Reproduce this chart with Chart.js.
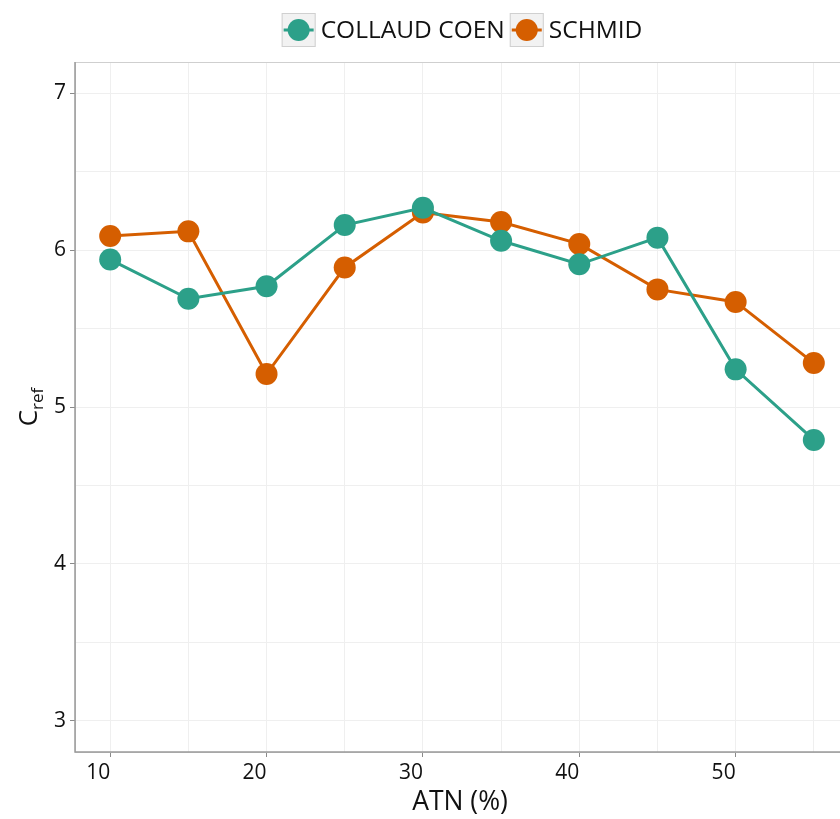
<!DOCTYPE html>
<html>
<head>
<meta charset="utf-8">
<script src="https://cdn.jsdelivr.net/npm/chart.js@4"></script>
<style>
  html, body { margin: 0; padding: 0; background: #fff; overflow: hidden; }
  #wrap { width: 860px; height: 819px; }
</style>
</head>
<body>
<div id="wrap"><canvas id="atnChart" width="860" height="819"></canvas></div>
<script>
// values
const atn = [10, 15, 20, 25, 30, 35, 40, 45, 50, 55];
const collaudCoen = [5.94, 5.69, 5.77, 6.16, 6.27, 6.06, 5.91, 6.08, 5.24, 4.79];
const schmid = [6.09, 6.12, 5.21, 5.89, 6.24, 6.18, 6.04, 5.75, 5.67, 5.28];
const seriesNames = ['COLLAUD COEN', 'SCHMID'];
const seriesColors = ['#2ca089', '#d55e00'];
const xTicks = [10, 15, 20, 25, 30, 35, 40, 45, 50, 55];
const yTicks = [3, 3.5, 4, 4.5, 5, 5.5, 6, 6.5, 7];

const FONT = '"Open Sans", "Noto Sans", sans-serif';

const toPoints = (ys) => ys.map((y, i) => ({ x: atn[i], y: y }));

// panel border, legend and axis titles in ggplot style
const ggDecor = {
    id: 'ggDecor',
    beforeDatasetsDraw(chart) {
        const { ctx, chartArea: a } = chart;
        ctx.save();
        ctx.strokeStyle = '#cfcfcf';
        ctx.lineWidth = 1;
        ctx.strokeRect(a.left + 0.5, a.top + 0.5, a.right - a.left, a.bottom - a.top);
        ctx.strokeStyle = '#9a9a9a';
        ctx.lineWidth = 1.5;
        ctx.beginPath();
        ctx.moveTo(a.left, a.top);
        ctx.lineTo(a.left, a.bottom);
        ctx.lineTo(a.right, a.bottom);
        ctx.stroke();
        ctx.restore();
    },
    afterDraw(chart) {
        const { ctx, chartArea: a } = chart;
        const cx = (a.left + a.right) / 2;
        ctx.save();

        // legend
        ctx.font = '24.5px ' + FONT;
        ctx.textBaseline = 'middle';
        ctx.textAlign = 'left';
        const key = 34, gap = 5, between = 5;
        const widths = seriesNames.map(n => ctx.measureText(n).width);
        const total = widths.reduce((s, w) => s + key + gap + w, 0) + between;
        let x = cx - total / 2;
        const ky = 13;
        seriesNames.forEach((name, i) => {
            ctx.fillStyle = '#f2f2f2';
            ctx.fillRect(x, ky, key, key);
            ctx.strokeStyle = '#d0d0d0';
            ctx.lineWidth = 1;
            ctx.strokeRect(x + 0.5, ky + 0.5, key - 1, key - 1);
            ctx.strokeStyle = seriesColors[i];
            ctx.lineWidth = 3;
            ctx.beginPath();
            ctx.moveTo(x + 2, ky + key / 2);
            ctx.lineTo(x + key - 2, ky + key / 2);
            ctx.stroke();
            ctx.fillStyle = seriesColors[i];
            ctx.beginPath();
            ctx.arc(x + key / 2, ky + key / 2, 11, 0, Math.PI * 2);
            ctx.fill();
            ctx.fillStyle = '#111';
            ctx.fillText(name, x + key + gap, ky + key / 2 + 1);
            x += key + gap + widths[i] + between;
        });

        // x title
        ctx.textAlign = 'center';
        ctx.textBaseline = 'alphabetic';
        ctx.font = '26.5px ' + FONT;
        ctx.fillText('ATN (%)', cx - 2, 810);

        // y title C_ref
        const cy = (a.top + a.bottom) / 2;
        ctx.translate(37, cy);
        ctx.rotate(-Math.PI / 2);
        ctx.textAlign = 'left';
        ctx.font = '26px ' + FONT;
        const wC = ctx.measureText('C').width;
        ctx.font = '17px ' + FONT;
        const wSub = ctx.measureText('ref').width;
        const start = -(wC + wSub) / 2;
        ctx.font = '26px ' + FONT;
        ctx.fillText('C', start, 0);
        ctx.font = '17px ' + FONT;
        ctx.fillText('ref', start + wC, 6);
        ctx.restore();
    }
};

const majorX = (v) => v % 10 === 0;
const majorY = (v) => Number.isInteger(v);

new Chart(document.getElementById('atnChart'), {
    type: 'line',
    data: {
        datasets: [
            {
                label: seriesNames[0],
                data: toPoints(collaudCoen),
                borderColor: seriesColors[0],
                backgroundColor: seriesColors[0],
                borderWidth: 3,
                pointRadius: 11,
                pointHoverRadius: 11,
                pointBorderWidth: 0,
                tension: 0
            },
            {
                label: seriesNames[1],
                data: toPoints(schmid),
                borderColor: seriesColors[1],
                backgroundColor: seriesColors[1],
                borderWidth: 3,
                pointRadius: 11,
                pointHoverRadius: 11,
                pointBorderWidth: 0,
                tension: 0
            }
        ]
    },
    options: {
        responsive: false,
        animation: false,
        layout: { padding: { top: 62, right: 8, left: 0, bottom: 0 } },
        plugins: {
            legend: { display: false },
            tooltip: { enabled: false }
        },
        scales: {
            x: {
                type: 'linear',
                min: 7.75,
                max: 57.25,
                afterBuildTicks: (scale) => { scale.ticks = xTicks.map(v => ({ value: v })); },
                afterFit: (scale) => { scale.height = 67; },
                border: { display: false },
                grid: {
                    color: '#efefef',
                    lineWidth: 1,
                    tickLength: 5,
                    tickColor: (c) => (c.tick && majorX(c.tick.value) ? '#8a8a8a' : 'rgba(0,0,0,0)')
                },
                ticks: {
                    autoSkip: false,
                    maxRotation: 0,
                    align: 'end',
                    padding: 3,
                    color: '#111',
                    font: { family: FONT, size: 21 },
                    callback: (v) => (majorX(v) ? String(v) : '')
                }
            },
            y: {
                min: 2.8,
                max: 7.2,
                afterBuildTicks: (scale) => { scale.ticks = yTicks.map(v => ({ value: v })); },
                afterFit: (scale) => { scale.width = 75; },
                border: { display: false },
                grid: {
                    color: '#efefef',
                    lineWidth: 1,
                    tickLength: 5,
                    tickColor: (c) => (c.tick && majorY(c.tick.value) ? '#8a8a8a' : 'rgba(0,0,0,0)')
                },
                ticks: {
                    autoSkip: false,
                    padding: 4,
                    color: '#111',
                    font: { family: FONT, size: 21 },
                    callback: (v) => (majorY(v) ? String(v) : '')
                }
            }
        }
    },
    plugins: [ggDecor]
});
</script>
</body>
</html>
